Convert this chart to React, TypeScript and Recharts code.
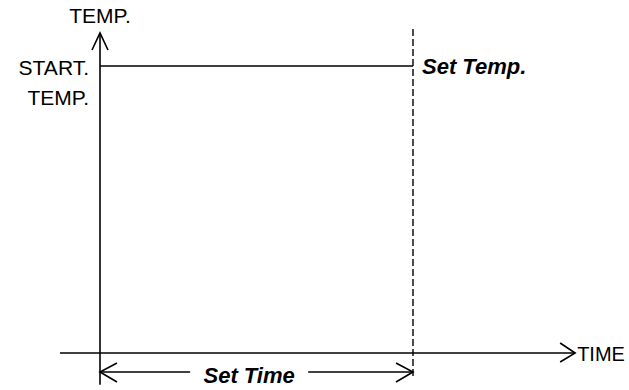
import React from "react";
import { LineChart, Line, XAxis, YAxis, ReferenceLine, ReferenceDot } from "recharts";

// time: 0 = start, setTime = end of hold; temperature: 0 = time axis, 1 = start temp
const setTime = 10;
const startTemp = 1;
const holdProfile = [
  { t: 0, temp: startTemp },
  { t: setTime, temp: startTemp },
];
const timeAxisSpan = [-1.28, 15.18];
const tempAxisSpan = [-0.111, 1.115];
const setTimeMarkSpan = [-0.08, 1.136];
const setTimeArrowLevel = -0.066;
const setTimeGap = [2.88, 6.65];
const tempAxisLabel = "TEMP.";
const timeAxisLabel = "TIME";
const startLabels = ["START.", "TEMP."];
const setTempLabel = "Set Temp.";
const setTimeLabel = "Set Time";

const ink = "#000";
const font = "'Liberation Sans', Arial, Helvetica, sans-serif";
const sw = 1.6;

function TempAxis(p: any) {
  const x = p.x1;
  const top = Math.min(p.y1, p.y2);
  const bottom = Math.max(p.y1, p.y2);
  return (
    <g>
      <line x1={x} y1={bottom} x2={x} y2={top} stroke={ink} strokeWidth={sw} />
      <polyline points={`${x - 8},${top + 17} ${x},${top} ${x + 8},${top + 17}`} fill="none" stroke={ink} strokeWidth={sw} />
      <text x={x} y={top - 10} textAnchor="middle" fontSize={21} fontFamily={font} fill={ink}>{tempAxisLabel}</text>
    </g>
  );
}

function TimeAxis(p: any) {
  const y = p.y1;
  const left = Math.min(p.x1, p.x2);
  const right = Math.max(p.x1, p.x2);
  return (
    <g>
      <line x1={left} y1={y} x2={right} y2={y} stroke={ink} strokeWidth={sw} />
      <polyline points={`${right - 15},${y - 10} ${right},${y} ${right - 15},${y + 9}`} fill="none" stroke={ink} strokeWidth={sw} />
      <text x={right + 2} y={y + 8} fontSize={20} fontFamily={font} fill={ink}>{timeAxisLabel}</text>
    </g>
  );
}

function ArrowLeft(p: any) {
  const y = p.y1;
  const left = Math.min(p.x1, p.x2);
  const right = Math.max(p.x1, p.x2);
  return (
    <g>
      <line x1={left} y1={y} x2={right} y2={y} stroke={ink} strokeWidth={sw} />
      <polyline points={`${left + 17},${y - 9} ${left},${y} ${left + 17},${y + 10}`} fill="none" stroke={ink} strokeWidth={sw} />
    </g>
  );
}

function ArrowRight(p: any) {
  const y = p.y1;
  const left = Math.min(p.x1, p.x2);
  const right = Math.max(p.x1, p.x2);
  return (
    <g>
      <line x1={left} y1={y} x2={right} y2={y} stroke={ink} strokeWidth={sw} />
      <polyline points={`${right - 17},${y - 9} ${right},${y} ${right - 17},${y + 10}`} fill="none" stroke={ink} strokeWidth={sw} />
    </g>
  );
}

function StartTempText(p: any) {
  return (
    <g>
      {startLabels.map((s, i) => (
        <text key={i} x={p.cx - 11} y={p.cy + 9 + i * 30} textAnchor="end" fontSize={21} fontFamily={font} fill={ink}>{s}</text>
      ))}
    </g>
  );
}

function SetTempText(p: any) {
  return (
    <text x={p.cx + 9} y={p.cy + 8} fontSize={22} fontWeight="bold" fontStyle="italic" fontFamily={font} fill={ink}>{setTempLabel}</text>
  );
}

function SetTimeText(p: any) {
  return (
    <text x={p.cx} y={p.cy + 11} textAnchor="middle" fontSize={22} fontWeight="bold" fontStyle="italic" fontFamily={font} fill={ink}>{setTimeLabel}</text>
  );
}

export default function App() {
  return (
    <div style={{ position: "absolute", left: 0, top: 0, width: 629, height: 390, background: "#fff" }}>
      <LineChart width={629} height={390} data={holdProfile} margin={{ top: 66, right: 216, bottom: 37, left: 100 }}>
        <XAxis type="number" dataKey="t" domain={[0, setTime]} hide />
        <YAxis type="number" domain={[0, startTemp]} hide />
        <ReferenceLine segment={[{ x: timeAxisSpan[0], y: 0 }, { x: timeAxisSpan[1], y: 0 }]} ifOverflow="visible" shape={TimeAxis} />
        <ReferenceLine segment={[{ x: 0, y: tempAxisSpan[0] }, { x: 0, y: tempAxisSpan[1] }]} ifOverflow="visible" shape={TempAxis} />
        <ReferenceLine
          segment={[{ x: setTime, y: setTimeMarkSpan[0] }, { x: setTime, y: setTimeMarkSpan[1] }]}
          ifOverflow="visible"
          stroke={ink}
          strokeWidth={1.4}
          strokeDasharray="7 3"
        />
        <ReferenceLine segment={[{ x: 0, y: setTimeArrowLevel }, { x: setTimeGap[0], y: setTimeArrowLevel }]} ifOverflow="visible" shape={ArrowLeft} />
        <ReferenceLine segment={[{ x: setTimeGap[1], y: setTimeArrowLevel }, { x: setTime, y: setTimeArrowLevel }]} ifOverflow="visible" shape={ArrowRight} />
        <Line type="linear" dataKey="temp" stroke={ink} strokeWidth={sw} dot={false} isAnimationActive={false} />
        <ReferenceDot x={0} y={startTemp} r={0} ifOverflow="visible" shape={StartTempText} />
        <ReferenceDot x={setTime} y={startTemp} r={0} ifOverflow="visible" shape={SetTempText} />
        <ReferenceDot x={(setTimeGap[0] + setTimeGap[1]) / 2} y={setTimeArrowLevel} r={0} ifOverflow="visible" shape={SetTimeText} />
      </LineChart>
    </div>
  );
}
